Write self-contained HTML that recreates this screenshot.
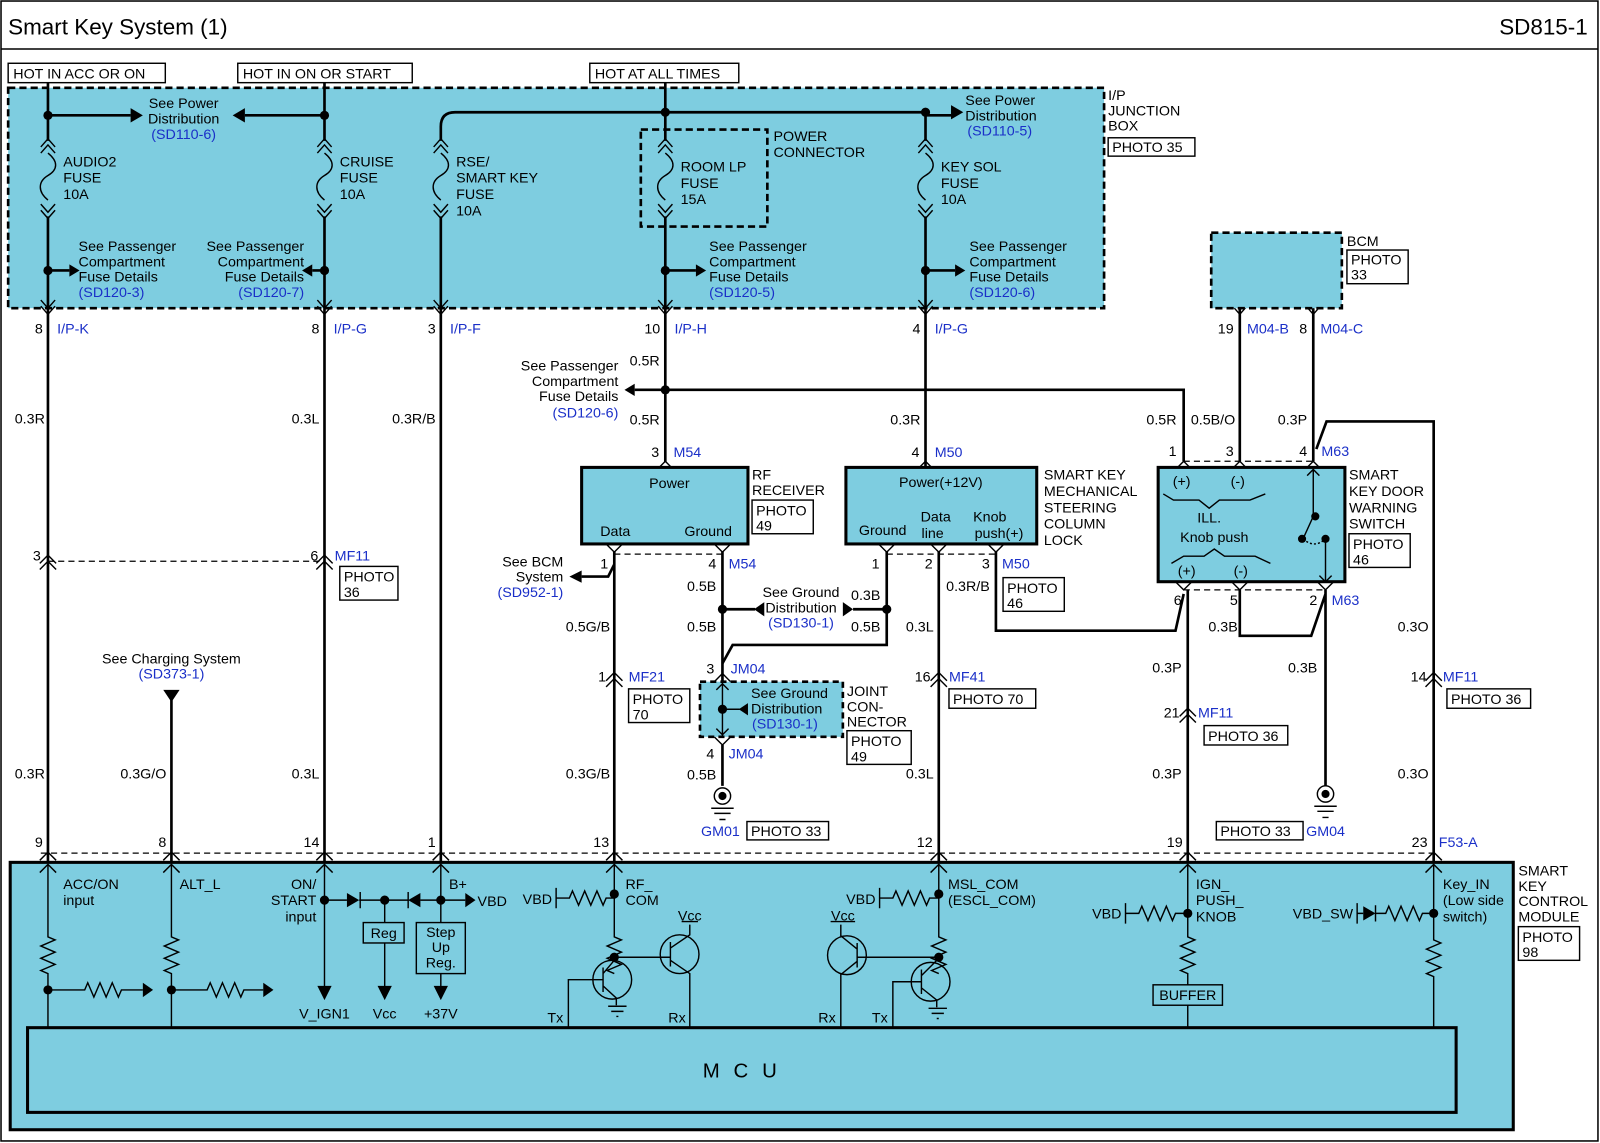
<!DOCTYPE html>
<html><head><meta charset="utf-8"><style>
html,body{margin:0;padding:0;background:#fff}
svg{display:block}
text{font-family:"Liberation Sans",sans-serif;font-size:14px;fill:#000}
.b{fill:#1a2fc8}
.m{text-anchor:middle}.e{text-anchor:end}
.w{stroke:#000;stroke-width:2.6;fill:none}
.t{stroke:#000;stroke-width:1.4;fill:none}
.f{fill:#7ecde0}
</style></head><body>
<svg width="1600" height="1143" viewBox="0 0 1568 1120" preserveAspectRatio="none" xmlns="http://www.w3.org/2000/svg">
<rect x="1" y="1" width="1565" height="1117" fill="#fff" stroke="#000" stroke-width="1.5"/>
<line x1="1" y1="48" x2="1566" y2="48" stroke="#000" stroke-width="1.5"/>
<text x="8" y="34" style="font-size:22px">Smart Key System (1)</text>
<text x="1556" y="34" class="e" style="font-size:22px">SD815-1</text>

<g class="t"><rect x="8" y="62" width="154" height="19"/><rect x="233" y="62" width="171" height="19"/><rect x="578" y="62" width="146" height="19"/></g>
<text x="13" y="77">HOT IN ACC OR ON</text><text x="238" y="77">HOT IN ON OR START</text><text x="583" y="77">HOT AT ALL TIMES</text>

<!-- junction box -->
<rect x="8" y="86" width="1074" height="216" class="f" stroke="#000" stroke-width="2.6" stroke-dasharray="7,4"/>
<rect x="628" y="127" width="124" height="95" fill="none" stroke="#000" stroke-width="2.6" stroke-dasharray="7,4"/>
<text x="1086" y="98">I/P</text><text x="1086" y="113">JUNCTION</text><text x="1086" y="128">BOX</text>
<rect x="1086" y="135" width="85" height="18" class="t" fill="#fff"/><text x="1090" y="149">PHOTO 35</text>

<!-- main vertical wires -->
<g class="w">
<path d="M47 81V138M47 212V845"/>
<path d="M318 81V138M318 212V845"/>
<path d="M432 138V124Q432 110 446 110H907V138M432 212V845"/>
<path d="M652 81V138M652 212V453"/>
<path d="M907 212V458"/>
<path d="M47 113H128M318 113H240M907 113H932"/>
<path d="M47 265H68M318 265H306M652 265H682M907 265H936"/>
<path d="M652 382H1160V452M652 382H622"/>
<path d="M1215 302V452M1287 302V452M1290 440L1300 413H1405V845"/>
<path d="M602 540V845M602 553L596 565H570"/>
<path d="M708 540V668M708 730V770M708 597H740"/>
<path d="M869 540V632H718L708 650M869 597H836"/>
<path d="M920 540V845"/>
<path d="M976 540V618H1152L1160 582M1164 578V845"/>
<path d="M1215 578V623H1285L1299 582M1299 578V770"/>
<path d="M168 686V845"/>
</g>
<!-- arrowheads & dots -->
<g fill="#000">
<path d="M128 106L140 113L128 120Z M240 106L228 113L240 120Z M932 103L944 110L932 117Z"/>
<path d="M68 259L78 265L68 271Z M306 259L296 265L306 271Z M682 259L692 265L682 271Z M936 259L946 265L936 271Z"/>
<path d="M622 376L612 382L622 388Z M570 559L558 565L570 571Z"/>
<path d="M749 590L739 597L749 604Z M826 590L836 597L826 604Z M160 676L176 676L168 688Z"/>
<circle cx="47" cy="113" r="4.5"/><circle cx="318" cy="113" r="4.5"/><circle cx="652" cy="110" r="4.5"/><circle cx="907" cy="110" r="4.5"/>
<circle cx="47" cy="265" r="4.5"/><circle cx="318" cy="265" r="4.5"/><circle cx="652" cy="265" r="4.5"/><circle cx="907" cy="265" r="4.5"/>
<circle cx="652" cy="382" r="4.5"/><circle cx="708" cy="597" r="4.5"/><circle cx="869" cy="597" r="4.5"/>
</g>
<!-- fuses -->
<g class="t" stroke-width="1.6">
<path d="M40 144L47 136L54 144M40 150L47 142L54 150M47 150C57 158 57 166 47 172C37 178 37 188 47 196M40 200L47 208L54 200M40 206L47 214L54 206"/>
<path d="M311 144L318 136L325 144M311 150L318 142L325 150M318 150C328 158 328 166 318 172C308 178 308 188 318 196M311 200L318 208L325 200M311 206L318 214L325 206"/>
<path d="M425 144L432 136L439 144M425 150L432 142L439 150M432 150C442 158 442 166 432 172C422 178 422 188 432 196M425 200L432 208L439 200M425 206L432 214L439 206"/>
<path d="M645 144L652 136L659 144M645 150L652 142L659 150M652 150C662 158 662 166 652 172C642 178 642 188 652 196M645 200L652 208L659 200M645 206L652 214L659 206"/>
<path d="M900 144L907 136L914 144M900 150L907 142L914 150M907 150C917 158 917 166 907 172C897 178 897 188 907 196M900 200L907 208L914 200M900 206L907 214L914 206"/>
<path d="M40 294L47 302L54 294M40 300L47 308L54 300M311 294L318 302L325 294M311 300L318 308L325 300M425 294L432 302L439 294M425 300L432 308L439 300M645 294L652 302L659 294M645 300L652 308L659 300M900 294L907 302L914 294M900 300L907 308L914 300"/>
<path d="M1208 294L1215 302L1222 294M1208 300L1215 308L1222 300M1280 294L1287 302L1294 294M1280 300L1287 308L1294 300"/>
<path d="M39 552L47 544L55 552M39 558L47 550L55 558M310 552L318 544L326 552M310 558L318 550L326 558"/>
<path d="M594 667L602 659L610 667M594 673L602 665L610 673M912 667L920 659L928 667M912 673L920 665L928 673"/>
<path d="M1156 702L1164 694L1172 702M1156 708L1164 700L1172 708M1397 667L1405 659L1413 667M1397 673L1405 665L1413 673"/>
<path d="M644 460L652 452L660 460M899 460L907 452L915 460M1152 460L1160 452L1168 460M1207 460L1215 452L1223 460M1279 460L1287 452L1295 460"/>
<path d="M594 533L602 541L610 533M700 533L708 541L716 533M861 533L869 541L877 533M912 533L920 541L928 533M968 533L976 541L984 533"/>
<path d="M1152 570L1160 578L1168 570M1207 570L1215 578L1223 570M1291 570L1299 578L1307 570"/>
<path d="M700 668L708 660L716 668M700 722L708 730L716 722"/>
</g>
<g stroke="#000" stroke-width="1.2" stroke-dasharray="6,4">
<line x1="47" y1="550" x2="318" y2="550"/><line x1="602" y1="543" x2="708" y2="543"/><line x1="869" y1="543" x2="976" y2="543"/>
<line x1="1160" y1="452" x2="1287" y2="452"/><line x1="1160" y1="578" x2="1299" y2="578"/><line x1="40" y1="836" x2="1405" y2="836"/>
</g>

<!-- JB texts -->
<text x="180" y="106" class="m">See Power</text><text x="180" y="121" class="m">Distribution</text><text x="180" y="136" class="m b">(SD110-6)</text>
<text x="946" y="103">See Power</text><text x="946" y="118">Distribution</text><text x="948" y="133" class="b">(SD110-5)</text>
<text x="62" y="163">AUDIO2</text><text x="62" y="179">FUSE</text><text x="62" y="195">10A</text>
<text x="333" y="163">CRUISE</text><text x="333" y="179">FUSE</text><text x="333" y="195">10A</text>
<text x="447" y="163">RSE/</text><text x="447" y="179">SMART KEY</text><text x="447" y="195">FUSE</text><text x="447" y="211">10A</text>
<text x="667" y="168">ROOM LP</text><text x="667" y="184">FUSE</text><text x="667" y="200">15A</text>
<text x="922" y="168">KEY SOL</text><text x="922" y="184">FUSE</text><text x="922" y="200">10A</text>
<text x="758" y="138">POWER</text><text x="758" y="154">CONNECTOR</text>
<text x="77" y="246">See Passenger</text><text x="77" y="261">Compartment</text><text x="77" y="276">Fuse Details</text><text x="77" y="291" class="b">(SD120-3)</text>
<text x="298" y="246" class="e">See Passenger</text><text x="298" y="261" class="e">Compartment</text><text x="298" y="276" class="e">Fuse Details</text><text x="298" y="291" class="e b">(SD120-7)</text>
<text x="695" y="246">See Passenger</text><text x="695" y="261">Compartment</text><text x="695" y="276">Fuse Details</text><text x="695" y="291" class="b">(SD120-5)</text>
<text x="950" y="246">See Passenger</text><text x="950" y="261">Compartment</text><text x="950" y="276">Fuse Details</text><text x="950" y="291" class="b">(SD120-6)</text>

<text x="42" y="327" class="e">8</text><text x="56" y="327" class="b">I/P-K</text>
<text x="313" y="327" class="e">8</text><text x="327" y="327" class="b">I/P-G</text>
<text x="427" y="327" class="e">3</text><text x="441" y="327" class="b">I/P-F</text>
<text x="647" y="327" class="e">10</text><text x="661" y="327" class="b">I/P-H</text>
<text x="902" y="327" class="e">4</text><text x="916" y="327" class="b">I/P-G</text>
<text x="1209" y="327" class="e">19</text><text x="1222" y="327" class="b">M04-B</text>
<text x="1281" y="327" class="e">8</text><text x="1294" y="327" class="b">M04-C</text>

<!-- BCM -->
<rect x="1187" y="228" width="128" height="74" class="f" stroke="#000" stroke-width="2.6" stroke-dasharray="7,4"/>
<text x="1320" y="241">BCM</text><rect x="1320" y="245" width="60" height="33" class="t" fill="#fff"/><text x="1324" y="259">PHOTO</text><text x="1324" y="274">33</text>

<text x="44" y="415" class="e">0.3R</text><text x="313" y="415" class="e">0.3L</text><text x="427" y="415" class="e">0.3R/B</text>
<text x="617" y="358">0.5R</text><text x="617" y="416">0.5R</text><text x="902" y="416" class="e">0.3R</text>
<text x="1153" y="416" class="e">0.5R</text><text x="1167" y="416">0.5B/O</text><text x="1281" y="416" class="e">0.3P</text>
<text x="606" y="363" class="e">See Passenger</text><text x="606" y="378" class="e">Compartment</text><text x="606" y="393" class="e">Fuse Details</text><text x="606" y="409" class="e b">(SD120-6)</text>

<!-- RF receiver -->
<text x="646" y="448" class="e">3</text><text x="660" y="448" class="b">M54</text>
<rect x="570" y="458" width="163" height="75" class="f" stroke="#000" stroke-width="3"/>
<text x="656" y="478" class="m">Power</text><text x="603" y="525" class="m">Data</text><text x="694" y="525" class="m">Ground</text>
<text x="737" y="470">RF</text><text x="737" y="485">RECEIVER</text>
<rect x="737" y="490" width="60" height="33" class="t" fill="#fff"/><text x="741" y="505">PHOTO</text><text x="741" y="520">49</text>
<text x="596" y="557" class="e">1</text><text x="702" y="557" class="e">4</text><text x="714" y="557" class="b">M54</text>
<text x="552" y="555" class="e">See BCM</text><text x="552" y="570" class="e">System</text><text x="552" y="585" class="e b">(SD952-1)</text>
<text x="702" y="579" class="e">0.5B</text><text x="702" y="619" class="e">0.5B</text><text x="598" y="619" class="e">0.5G/B</text>
<text x="785" y="585" class="m">See Ground</text><text x="785" y="600" class="m">Distribution</text><text x="785" y="615" class="m b">(SD130-1)</text>
<text x="834" y="588">0.3B</text><text x="834" y="619">0.5B</text>

<!-- ESCL -->
<text x="901" y="448" class="e">4</text><text x="916" y="448" class="b">M50</text>
<rect x="829" y="458" width="187" height="75" class="f" stroke="#000" stroke-width="3"/>
<text x="922" y="477" class="m">Power(+12V)</text><text x="865" y="524" class="m">Ground</text>
<text x="917" y="511" class="m">Data</text><text x="914" y="527" class="m">line</text>
<text x="970" y="511" class="m">Knob</text><text x="979" y="527" class="m">push(+)</text>
<text x="1023" y="470">SMART KEY</text><text x="1023" y="486">MECHANICAL</text><text x="1023" y="502">STEERING</text><text x="1023" y="518">COLUMN</text><text x="1023" y="534">LOCK</text>
<text x="862" y="557" class="e">1</text><text x="914" y="557" class="e">2</text><text x="970" y="557" class="e">3</text><text x="982" y="557" class="b">M50</text>
<rect x="983" y="566" width="60" height="33" class="t" fill="#fff"/><text x="987" y="581">PHOTO</text><text x="987" y="596">46</text>
<text x="970" y="579" class="e">0.3R/B</text><text x="915" y="619" class="e">0.3L</text>

<!-- Joint connector -->
<text x="700" y="660" class="e">3</text><text x="716" y="660" class="b">JM04</text>
<rect x="686" y="668" width="140" height="54" class="f" stroke="#000" stroke-width="2.6" stroke-dasharray="6,4"/>
<g class="t"><path d="M708 668V722M702 676L708 670L714 676M702 714L708 720L714 714M708 695H725"/></g>
<circle cx="708" cy="695" r="4.5"/><path d="M733 689L724 695L733 701Z"/>
<text x="736" y="684">See Ground</text><text x="736" y="699">Distribution</text><text x="737" y="714" class="b">(SD130-1)</text>
<text x="830" y="682">JOINT</text><text x="830" y="697">CON-</text><text x="830" y="712">NECTOR</text>
<rect x="830" y="716" width="63" height="33" class="t" fill="#fff"/><text x="834" y="731">PHOTO</text><text x="834" y="746">49</text>
<text x="700" y="743" class="e">4</text><text x="714" y="743" class="b">JM04</text>
<text x="702" y="764" class="e">0.5B</text>
<g class="t" stroke-width="2.4">
<circle cx="708" cy="780" r="8"/><path d="M697 792H719M700 797H716M705 803H711"/>
<circle cx="1299" cy="778" r="8"/><path d="M1288 790H1310M1291 795H1307M1296 801H1302"/>
</g>
<circle cx="708" cy="780" r="4"/><circle cx="1299" cy="778" r="4"/>
<text x="687" y="819" class="b">GM01</text><rect x="732" y="805" width="80" height="18" class="t" fill="#fff"/><text x="736" y="819">PHOTO 33</text>
<rect x="1192" y="805" width="85" height="18" class="t" fill="#fff"/><text x="1196" y="819">PHOTO 33</text><text x="1280" y="819" class="b">GM04</text>

<text x="40" y="549" class="e">3</text><text x="312" y="549" class="e">6</text><text x="328" y="549" class="b">MF11</text>
<rect x="333" y="555" width="57" height="33" class="t" fill="#fff"/><text x="337" y="570">PHOTO</text><text x="337" y="585">36</text>
<text x="594" y="668" class="e">1</text><text x="616" y="668" class="b">MF21</text>
<rect x="616" y="675" width="60" height="33" class="t" fill="#fff"/><text x="620" y="690">PHOTO</text><text x="620" y="705">70</text>
<text x="912" y="668" class="e">16</text><text x="930" y="668" class="b">MF41</text>
<rect x="930" y="675" width="85" height="19" class="t" fill="#fff"/><text x="934" y="690">PHOTO 70</text>
<text x="1156" y="703" class="e">21</text><text x="1174" y="703" class="b">MF11</text>
<rect x="1180" y="711" width="82" height="19" class="t" fill="#fff"/><text x="1184" y="726">PHOTO 36</text>
<text x="1398" y="668" class="e">14</text><text x="1414" y="668" class="b">MF11</text>
<rect x="1418" y="675" width="82" height="19" class="t" fill="#fff"/><text x="1422" y="690">PHOTO 36</text>
<text x="168" y="650" class="m">See Charging System</text><text x="168" y="665" class="m b">(SD373-1)</text>
<text x="44" y="763" class="e">0.3R</text><text x="163" y="763" class="e">0.3G/O</text><text x="313" y="763" class="e">0.3L</text>
<text x="598" y="763" class="e">0.3G/B</text><text x="915" y="763" class="e">0.3L</text>
<text x="1158" y="659" class="e">0.3P</text><text x="1158" y="763" class="e">0.3P</text>
<text x="1213" y="619" class="e">0.3B</text><text x="1291" y="659" class="e">0.3B</text>
<text x="1400" y="619" class="e">0.3O</text><text x="1400" y="763" class="e">0.3O</text>

<!-- M63 -->
<text x="1153" y="447" class="e">1</text><text x="1209" y="447" class="e">3</text><text x="1281" y="447" class="e">4</text><text x="1295" y="447" class="b">M63</text>
<rect x="1135" y="458" width="183" height="112" class="f" stroke="#000" stroke-width="3"/>
<text x="1158" y="476" class="m">(+)</text><text x="1213" y="476" class="m">(-)</text>
<text x="1185" y="512" class="m">ILL.</text><text x="1190" y="531" class="m">Knob push</text>
<text x="1163" y="564" class="m">(+)</text><text x="1216" y="564" class="m">(-)</text>
<g class="t">
<path d="M1140 484L1150 490H1175L1185 498L1195 490H1225L1240 484"/>
<path d="M1148 552L1160 545H1180L1190 538L1200 545H1230L1245 552"/>
<path d="M1287 460V506L1277 528M1299 528V570M1281 466L1287 460L1293 466M1293 564L1299 570L1305 564"/>
<path d="M1277 528Q1288 538 1299 528" stroke-dasharray="2,2"/>
</g>
<circle cx="1289" cy="506" r="4"/><circle cx="1276" cy="528" r="4"/><circle cx="1299" cy="528" r="4"/>
<text x="1322" y="470">SMART</text><text x="1322" y="486">KEY DOOR</text><text x="1322" y="502">WARNING</text><text x="1322" y="518">SWITCH</text>
<rect x="1322" y="523" width="60" height="33" class="t" fill="#fff"/><text x="1326" y="538">PHOTO</text><text x="1326" y="553">46</text>
<text x="1158" y="593" class="e">6</text><text x="1213" y="593" class="e">5</text><text x="1291" y="593" class="e">2</text><text x="1305" y="593" class="b">M63</text>

<!-- bottom module -->
<rect x="10" y="845" width="1473" height="262" class="f" stroke="#000" stroke-width="3"/>
<rect x="27" y="1007" width="1400" height="83" fill="none" stroke="#000" stroke-width="3"/>
<text x="727" y="1056" class="m" style="font-size:20px;letter-spacing:4px">M C U</text>
<text x="42" y="830" class="e">9</text><text x="163" y="830" class="e">8</text><text x="313" y="830" class="e">14</text><text x="427" y="830" class="e">1</text>
<text x="597" y="830" class="e">13</text><text x="914" y="830" class="e">12</text><text x="1159" y="830" class="e">19</text><text x="1399" y="830" class="e">23</text><text x="1410" y="830" class="b">F53-A</text>
<text x="1488" y="858">SMART</text><text x="1488" y="873">KEY</text><text x="1488" y="888">CONTROL</text><text x="1488" y="903">MODULE</text>
<rect x="1488" y="908" width="60" height="33" class="t" fill="#fff"/><text x="1492" y="923">PHOTO</text><text x="1492" y="938">98</text>
<g class="t" stroke-width="1.6">
<path d="M39 843L47 835L55 843M39 855L47 847L55 855M160 843L168 835L176 843M160 855L168 847L176 855M310 843L318 835L326 843M310 855L318 847L326 855M424 843L432 835L440 843M424 855L432 847L440 855M594 843L602 835L610 843M594 855L602 847L610 855M912 843L920 835L928 843M912 855L920 847L928 855M1156 843L1164 835L1172 843M1156 855L1164 847L1172 855M1397 843L1405 835L1413 843M1397 855L1405 847L1413 855"/>
<path d="M47 848V915l0 3l7 3l-14 6l14 6l-14 6l14 6l-14 6l7 3V1007M47 970H80l3 0l3 -7l6 14l6 -14l6 14l6 -14l6 14l3 -7H140"/>
<path d="M168 848V915l0 3l7 3l-14 6l14 6l-14 6l14 6l-14 6l7 3V1007M168 970H200l3 0l3 -7l6 14l6 -14l6 14l6 -14l6 14l3 -7H258"/>
<path d="M318 848V968M318 882H340M352 882H400M412 882H456M377 882V904M377 924V968M432 848V904M432 954V968"/>
<path d="M353 874V890M400 874V890"/>
<rect x="356" y="904" width="40" height="20"/><rect x="408" y="904" width="48" height="50"/>
<path d="M602 848V915l0 3l7 3l-14 6l14 6l-14 6l14 6l-14 6l7 3M545 870V890M545 880H555l3 0l3 -7l6 14l6 -14l6 14l6 -14l6 14l3 -7H602"/>
<circle cx="600" cy="960" r="19"/><path d="M591 948V972M557 1007V960H591M591 954L602 941M591 966L604 978V985M596 986H614M599 991H611M604 996H606"/>
<path d="M602 938H657"/><circle cx="666" cy="935" r="19"/><path d="M657 923V947M657 929L676 916V906M657 941L676 954V1007M668 903H684"/>
<path d="M920 848V915l0 3l7 3l-14 6l14 6l-14 6l14 6l-14 6l7 3M862 870V890M862 880H872l3 0l3 -7l6 14l6 -14l6 14l6 -14l6 14l3 -7H920"/>
<circle cx="912" cy="962" r="19"/><path d="M903 950V974M875 1007V962H903M903 956L918 941M903 968L918 980V987M910 988H928M913 993H925M918 998H920"/>
<path d="M920 938H840"/><circle cx="830" cy="936" r="19"/><path d="M840 924V948M840 930L824 917V906M840 942L824 955V1007M814 903H838"/>
<path d="M1164 848V915l0 3l7 3l-14 6l14 6l-14 6l14 6l-14 6l7 3V965M1164 985V1007M1103 885V905M1103 895H1113l3 0l3 -7l6 14l6 -14l6 14l6 -14l6 14l3 -7H1164"/>
<rect x="1130" y="965" width="68" height="20"/>
<path d="M1405 848V918l0 3l7 3l-14 6l14 6l-14 6l14 6l-14 6l7 3V1007M1330 885V905M1330 895H1336M1348 887V903M1348 895H1355l3 0l3 -7l6 14l6 -14l6 14l6 -14l6 14l3 -7H1405"/>
</g>
<g fill="#000">
<path d="M140 963L150 970L140 977Z M258 963L268 970L258 977Z"/>
<circle cx="47" cy="970" r="4.5"/><circle cx="168" cy="970" r="4.5"/>
<circle cx="318" cy="882" r="4.5"/><circle cx="377" cy="882" r="4.5"/><circle cx="432" cy="882" r="4.5"/>
<path d="M340 875L352 882L340 889Z M412 875L400 882L412 889Z M456 875L466 882L456 889Z"/>
<path d="M311 966L318 980L325 966Z M370 966L377 980L384 966Z M425 966L432 980L439 966Z"/>
<circle cx="602" cy="876" r="4.5"/><circle cx="602" cy="938" r="4.5"/>
<circle cx="920" cy="876" r="4.5"/><circle cx="920" cy="938" r="4.5"/>
<circle cx="1164" cy="895" r="4.5"/><circle cx="1405" cy="895" r="4.5"/>
<path d="M1336 888L1348 895L1336 902Z"/>
</g>
<text x="62" y="871">ACC/ON</text><text x="62" y="887">input</text><text x="176" y="871">ALT_L</text>
<text x="310" y="871" class="e">ON/</text><text x="310" y="887" class="e">START</text><text x="310" y="903" class="e">input</text>
<text x="440" y="871">B+</text><text x="468" y="888">VBD</text>
<text x="376" y="919" class="m">Reg</text><text x="432" y="918" class="m">Step</text><text x="432" y="933" class="m">Up</text><text x="432" y="948" class="m">Reg.</text>
<text x="318" y="998" class="m">V_IGN1</text><text x="377" y="998" class="m">Vcc</text><text x="432" y="998" class="m">+37V</text>
<text x="541" y="886" class="e">VBD</text><text x="613" y="871">RF_</text><text x="613" y="887">COM</text>
<text x="676" y="902" class="m">Vcc</text><text x="552" y="1002" class="e">Tx</text><text x="672" y="1002" class="e">Rx</text>
<text x="858" y="886" class="e">VBD</text><text x="929" y="871">MSL_COM</text><text x="929" y="887">(ESCL_COM)</text>
<text x="826" y="902" class="m">Vcc</text><text x="819" y="1002" class="e">Rx</text><text x="870" y="1002" class="e">Tx</text>
<text x="1172" y="871">IGN_</text><text x="1172" y="887">PUSH_</text><text x="1172" y="903">KNOB</text>
<text x="1099" y="900" class="e">VBD</text><text x="1164" y="980" class="m">BUFFER</text>
<text x="1326" y="900" class="e">VBD_SW</text>
<text x="1414" y="871">Key_IN</text><text x="1414" y="887">(Low side</text><text x="1414" y="903">switch)</text>
</svg>
</body></html>
